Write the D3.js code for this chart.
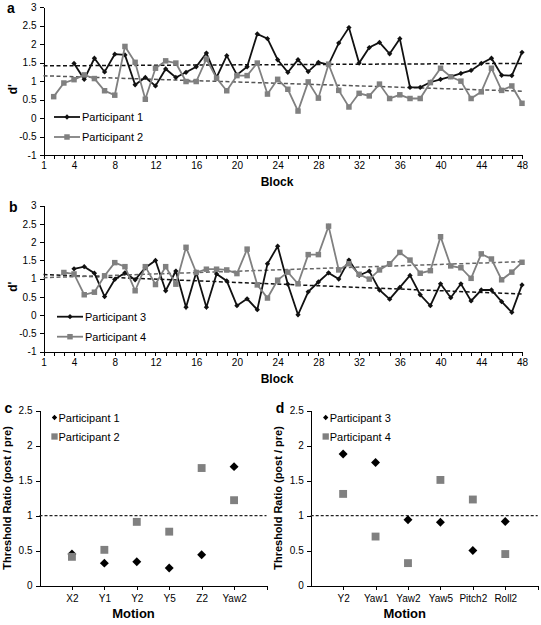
<!DOCTYPE html>
<html lang="en">
<head>
<meta charset="utf-8">
<title>d' by block and threshold ratios</title>
<script src="https://cdn.jsdelivr.net/npm/d3@7"></script>
<style>
  body { margin: 0; background: #fff; font-family: "Liberation Sans", Arial, sans-serif; }
  .axis path, .axis line { fill: none; stroke: #000; stroke-width: 1; shape-rendering: crispEdges; }
  .axis text { font-size: 10px; fill: #000; font-family: "Liberation Sans", Arial, sans-serif; }
  .title { font-size: 12px; font-weight: bold; fill: #000; }
  .letter { font-size: 14px; font-weight: bold; fill: #000; }
  .legend { font-size: 11px; fill: #000; }
</style>
</head>
<body>
<svg width="541" height="625"></svg>
<script>
var colorBlack = "#111";
var colorGray = "#808080";

// blocks 1..48, labels only on some of them
var blocks = [1,2,3,4,5,6,7,8,9,10,11,12,13,14,15,16,17,18,19,20,21,22,23,24,
              25,26,27,28,29,30,31,32,33,34,35,36,37,38,39,40,41,42,43,44,45,46,47,48];
var blockLabels = [1,4,8,12,16,20,24,28,32,36,40,44,48];
var dTicks = [-1,-0.5,0,0.5,1,1.5,2,2.5,3];

// d' per block (null = no data)
var p1 = [null,null,null,1.48,1.05,1.62,1.25,1.73,1.71,0.90,1.10,0.87,1.33,1.10,1.24,1.39,
          1.76,1.10,1.69,1.17,1.39,2.28,2.15,1.58,1.24,1.58,1.26,1.51,1.45,2.03,2.45,1.49,
          1.91,2.05,1.74,2.15,0.83,0.83,0.97,1.05,1.12,1.21,1.29,1.48,1.62,1.16,1.15,1.78];
var p2 = [null,0.58,0.95,1.04,1.17,1.07,0.74,0.62,1.94,1.51,0.51,1.35,1.55,1.49,0.99,0.99,
          1.60,1.08,0.74,1.15,1.15,1.49,0.65,1.05,0.78,0.19,0.98,0.54,1.46,0.75,0.30,0.67,
          0.60,0.92,0.53,0.63,0.53,0.53,0.96,1.35,1.12,1.00,0.53,0.71,1.35,0.75,0.87,0.40];
var p3 = [null,null,null,1.27,1.33,1.15,0.51,0.98,1.16,0.97,1.30,1.50,0.67,1.21,0.22,1.17,
          0.22,1.13,0.94,0.26,0.45,0.15,1.41,1.89,0.85,0.01,0.64,0.91,1.16,0.99,1.51,1.09,
          1.21,0.69,0.44,0.76,1.09,0.56,0.26,0.86,0.48,0.86,0.39,0.69,0.69,0.37,0.08,0.83];
var p4 = [null,null,1.17,1.13,0.56,0.63,1.08,1.44,1.33,0.67,1.33,0.84,1.33,0.85,1.86,1.17,
          1.26,1.26,1.24,1.14,1.81,0.83,0.47,0.96,1.18,0.86,1.66,1.66,2.44,1.24,1.41,1.12,
          0.99,1.24,1.41,1.72,1.51,1.15,1.22,2.15,1.35,1.30,1.01,1.68,1.54,0.97,1.18,1.45];

// threshold ratio (post / pre)
var ratioTicks = [0,0.5,1,1.5,2,2.5];
var motionsC = ["X2","Y1","Y2","Y5","Z2","Yaw2"];
var ratioP1 = [0.45,0.32,0.34,0.25,0.44,1.70];
var ratioP2 = [0.41,0.51,0.91,0.77,1.68,1.22];
var motionsD = ["Y2","Yaw1","Yaw2","Yaw5","Pitch2","Roll2"];
var ratioP3 = [1.88,1.76,0.94,0.905,0.50,0.915];
var ratioP4 = [1.31,0.70,0.32,1.51,1.23,0.45];

var svg = d3.select("svg");
var diamond = function(area) { return d3.symbol().type(d3.symbolSquare).size(area)(); };
var square = function(area) { return d3.symbol().type(d3.symbolSquare).size(area)(); };

// least squares trend across the blocks that have data
function trend(values) {
  var pts = blocks.map(function(b, i) { return [b, values[i]]; })
                  .filter(function(p) { return p[1] != null; });
  var mx = d3.mean(pts, function(p) { return p[0]; }),
      my = d3.mean(pts, function(p) { return p[1]; });
  var sxy = d3.sum(pts, function(p) { return (p[0] - mx) * (p[1] - my); }),
      sxx = d3.sum(pts, function(p) { return (p[0] - mx) * (p[0] - mx); });
  var slope = sxy / sxx;
  return function(b) { return my + slope * (b - mx); };
}

function blockPanel(cfg) {
  var x = d3.scaleLinear().domain([1, 48]).range([43.5, 522]);
  var y = d3.scaleLinear().domain([-1, 3]).range([cfg.bottom, cfg.top]);
  var g = svg.append("g");

  g.append("g")
    .attr("class", "axis")
    .attr("transform", "translate(0," + cfg.bottom + ")")
    .call(d3.axisBottom(x).tickValues(blocks).tickSize(4).tickSizeOuter(0).tickPadding(3)
      .tickFormat(function(d) { return blockLabels.indexOf(d) >= 0 ? d : ""; }));

  g.append("g")
    .attr("class", "axis")
    .attr("transform", "translate(" + x(1) + ",0)")
    .call(d3.axisLeft(y).tickValues(dTicks).tickSize(4).tickSizeOuter(0).tickPadding(3)
      .tickFormat(function(d) { return String(d); }));

  // trend lines
  cfg.series.forEach(function(s) {
    var f = trend(s.values);
    g.append("line")
      .attr("x1", x(1)).attr("y1", y(f(1)))
      .attr("x2", x(48)).attr("y2", y(f(48)))
      .style("stroke", s.trendColor)
      .style("stroke-width", 1.5)
      .style("stroke-dasharray", "4,2.5");
  });

  cfg.series.forEach(function(s) {
    var line = d3.line()
      .defined(function(d, i) { return s.values[i] != null; })
      .x(function(d, i) { return x(blocks[i]); })
      .y(function(d) { return y(d); });
    g.append("path")
      .attr("d", line(s.values))
      .style("fill", "none")
      .style("stroke", s.color)
      .style("stroke-width", 1.8);
    g.selectAll(null)
      .data(s.values.map(function(v, i) { return [blocks[i], v]; })
                    .filter(function(p) { return p[1] != null; }))
      .enter().append("path")
      .attr("d", s.shape == "diamond" ? diamond(14) : square(30))
      .attr("transform", function(p) {
        return "translate(" + x(p[0]) + "," + y(p[1]) + ")" + (s.shape == "diamond" ? " rotate(45)" : "");
      })
      .style("fill", s.color);
  });

  // legend
  cfg.series.forEach(function(s, i) {
    var ly = cfg.legendY + i * 20;
    g.append("line")
      .attr("x1", cfg.legendX).attr("x2", cfg.legendX + 26)
      .attr("y1", ly).attr("y2", ly)
      .style("stroke", s.color).style("stroke-width", 1.8);
    g.append("path")
      .attr("d", s.shape == "diamond" ? diamond(14) : square(30))
      .attr("transform", "translate(" + (cfg.legendX + 13) + "," + ly + ")" + (s.shape == "diamond" ? " rotate(45)" : ""))
      .style("fill", s.color);
    g.append("text")
      .attr("class", "legend")
      .attr("x", cfg.legendX + 28).attr("y", ly + 4)
      .text(s.name);
  });

  g.append("text").attr("class", "title")
    .attr("x", 277).attr("y", cfg.bottom + 31)
    .style("text-anchor", "middle").text("Block");
  g.append("text").attr("class", "title")
    .attr("transform", "translate(17," + ((cfg.top + cfg.bottom) / 2 + 8) + ") rotate(-90)")
    .style("text-anchor", "middle").text("d'");
  g.append("text").attr("class", "letter")
    .attr("x", cfg.letterX).attr("y", cfg.top + 6).text(cfg.letter);
}

function ratioPanel(cfg) {
  var x = d3.scaleLinear().domain([0, 7]).range([cfg.left, cfg.left + 227]);
  var y = d3.scaleLinear().domain([0, 2.5]).range([585.5, 410.7]);
  var g = svg.append("g");

  g.append("g")
    .attr("class", "axis")
    .attr("transform", "translate(0,585.5)")
    .call(d3.axisBottom(x).tickValues([1,2,3,4,5,6,7]).tickSize(4).tickSizeOuter(0).tickPadding(5)
      .tickFormat(function(d) { return cfg.motions[d - 1] || ""; }));

  g.append("g")
    .attr("class", "axis")
    .attr("transform", "translate(" + x(0) + ",0)")
    .call(d3.axisLeft(y).tickValues(ratioTicks).tickSize(4).tickSizeOuter(0).tickPadding(3)
      .tickFormat(function(d) { return String(d); }));

  g.append("line")
    .attr("x1", x(0)).attr("x2", x(7))
    .attr("y1", y(1)).attr("y2", y(1))
    .style("stroke", "#222").style("stroke-width", 1.3)
    .style("stroke-dasharray", "3,2");

  cfg.series.forEach(function(s) {
    g.selectAll(null)
      .data(s.values)
      .enter().append("path")
      .attr("d", s.shape == "diamond" ? diamond(40) : square(62))
      .attr("transform", function(v, i) {
        return "translate(" + x(i + 1) + "," + y(v) + ")" + (s.shape == "diamond" ? " rotate(45)" : "");
      })
      .style("fill", s.color);
  });

  cfg.series.forEach(function(s, i) {
    var ly = 417.5 + i * 19;
    g.append("path")
      .attr("d", s.shape == "diamond" ? diamond(14) : square(40))
      .attr("transform", "translate(" + (cfg.left + 15) + "," + ly + ")" + (s.shape == "diamond" ? " rotate(45)" : ""))
      .style("fill", s.color);
    g.append("text")
      .attr("class", "legend")
      .attr("x", cfg.left + 19).attr("y", ly + 4)
      .text(s.name);
  });

  g.append("text").attr("class", "title")
    .style("font-size", "13px")
    .attr("x", cfg.left + 94).attr("y", 618)
    .style("text-anchor", "middle").text("Motion");
  g.append("text").attr("class", "title")
    .style("font-size", "11px")
    .attr("transform", "translate(" + (cfg.left - 29) + ",498) rotate(-90)")
    .style("text-anchor", "middle").text("Threshold Ratio (post / pre)");
  g.append("text").attr("class", "letter")
    .attr("x", cfg.left - 35).attr("y", 413).text(cfg.letter);
}

blockPanel({
  letter: "a", letterX: 7, top: 7.3, bottom: 155, legendX: 54, legendY: 117,
  series: [
    { name: "Participant 1", values: p1, color: colorBlack, shape: "diamond", trendColor: "#111" },
    { name: "Participant 2", values: p2, color: colorGray, shape: "square", trendColor: "#555" }
  ]
});

blockPanel({
  letter: "b", letterX: 9, top: 205.7, bottom: 351.7, legendX: 57, legendY: 316.7,
  series: [
    { name: "Participant 3", values: p3, color: colorBlack, shape: "diamond", trendColor: "#111" },
    { name: "Participant 4", values: p4, color: colorGray, shape: "square", trendColor: "#666" }
  ]
});

ratioPanel({
  letter: "c", left: 39.5, motions: motionsC,
  series: [
    { name: "Participant 1", values: ratioP1, color: "#000", shape: "diamond" },
    { name: "Participant 2", values: ratioP2, color: colorGray, shape: "square" }
  ]
});

ratioPanel({
  letter: "d", left: 310.7, motions: motionsD,
  series: [
    { name: "Participant 3", values: ratioP3, color: "#000", shape: "diamond" },
    { name: "Participant 4", values: ratioP4, color: colorGray, shape: "square" }
  ]
});
</script>
</body>
</html>
